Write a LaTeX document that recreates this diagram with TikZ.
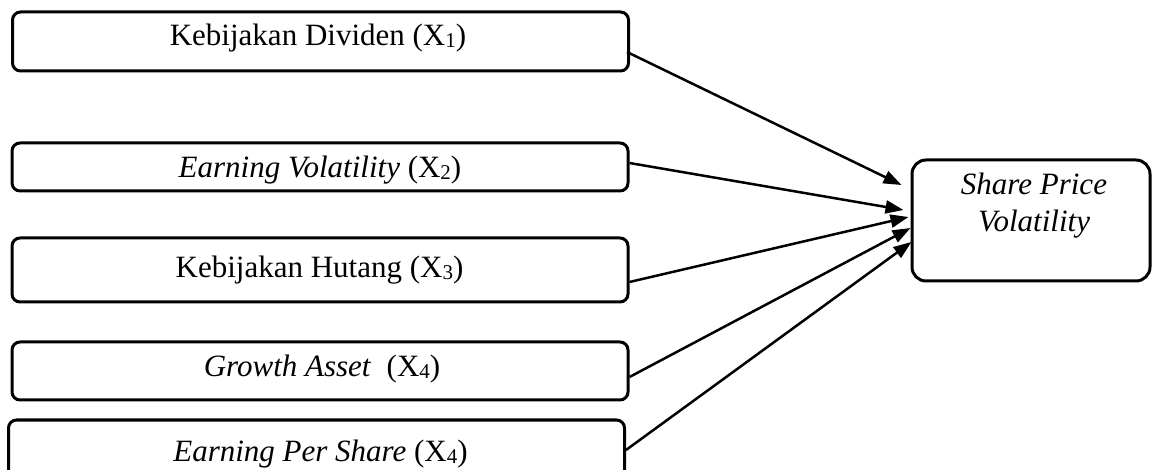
\documentclass[tikz,border=0pt]{standalone}
\usepackage{fontspec}
\setmainfont{Liberation Serif}
\usetikzlibrary{arrows.meta}
% small lowered index digit, as in X1
\newcommand\idx[1]{\raisebox{-2pt}{\fontsize{21}{21}\selectfont #1}}
\tikzset{
  varbox/.style={draw, line width=3pt, rounded corners=8pt, minimum width=616pt, inner sep=0pt},
  depbox/.style={draw, line width=3pt, rounded corners=14pt, minimum width=238pt, minimum height=121pt, inner sep=0pt},
  boxtext/.style={anchor=base, inner sep=0pt, font=\fontsize{31}{37}\selectfont},
  link/.style={line width=2.5pt, -{Triangle[length=18pt,width=13pt]}}
}
\begin{document}
\begin{tikzpicture}[x=1pt,y=-1pt]
\useasboundingbox (0,0) rectangle (1152,470);

% independent variables
\node[varbox, minimum height=59pt] (b1) at (320.5,41.5) {};
\node[varbox, minimum height=48pt] (b2) at (320,167) {};
\node[varbox, minimum height=64pt] (b3) at (320,270) {};
\node[varbox, minimum height=58pt] (b4) at (320,371) {};
\node[varbox, minimum height=58pt] (b5) at (316.5,449) {};

\node[boxtext] (l1) at (318,46) {Kebijakan Dividen (X\idx{1})};
\node[boxtext] (l2) at (320,178) {\textit{Earning Volatility} (X\idx{2})};
\node[boxtext] (l3) at (319.5,278) {Kebijakan Hutang (X\idx{3})};
\node[boxtext] (l4) at (322,377) {\textit{Growth Asset}\ \ (X\idx{4})};
\node[boxtext] (l5) at (320.5,461) {\textit{Earning Per Share} (X\idx{4})};

% dependent variable
\node[depbox] (t) at (1031,220.5) {};
\node[boxtext, align=center] (lt) at (1034,232) {\textit{Share Price}\\\textit{Volatility}};

% influences
\draw[link] ([shift={(-3,10.5)}]b1.east) -- ([shift={(-9,-35.5)}]t.west);
\draw[link] ([shift={(0,-4)}]b2.east) -- ([shift={(-7,-10.5)}]t.west);
\draw[link] ([shift={(0,12)}]b3.east) -- ([shift={(-2,-3.5)}]t.west);
\draw[link] ([shift={(0,6)}]b4.east) -- ([shift={(0,7.5)}]t.west);
\draw[link] ([shift={(0,1)}]b5.east) -- ([shift={(1,21.5)}]t.west);
\end{tikzpicture}
\end{document}
